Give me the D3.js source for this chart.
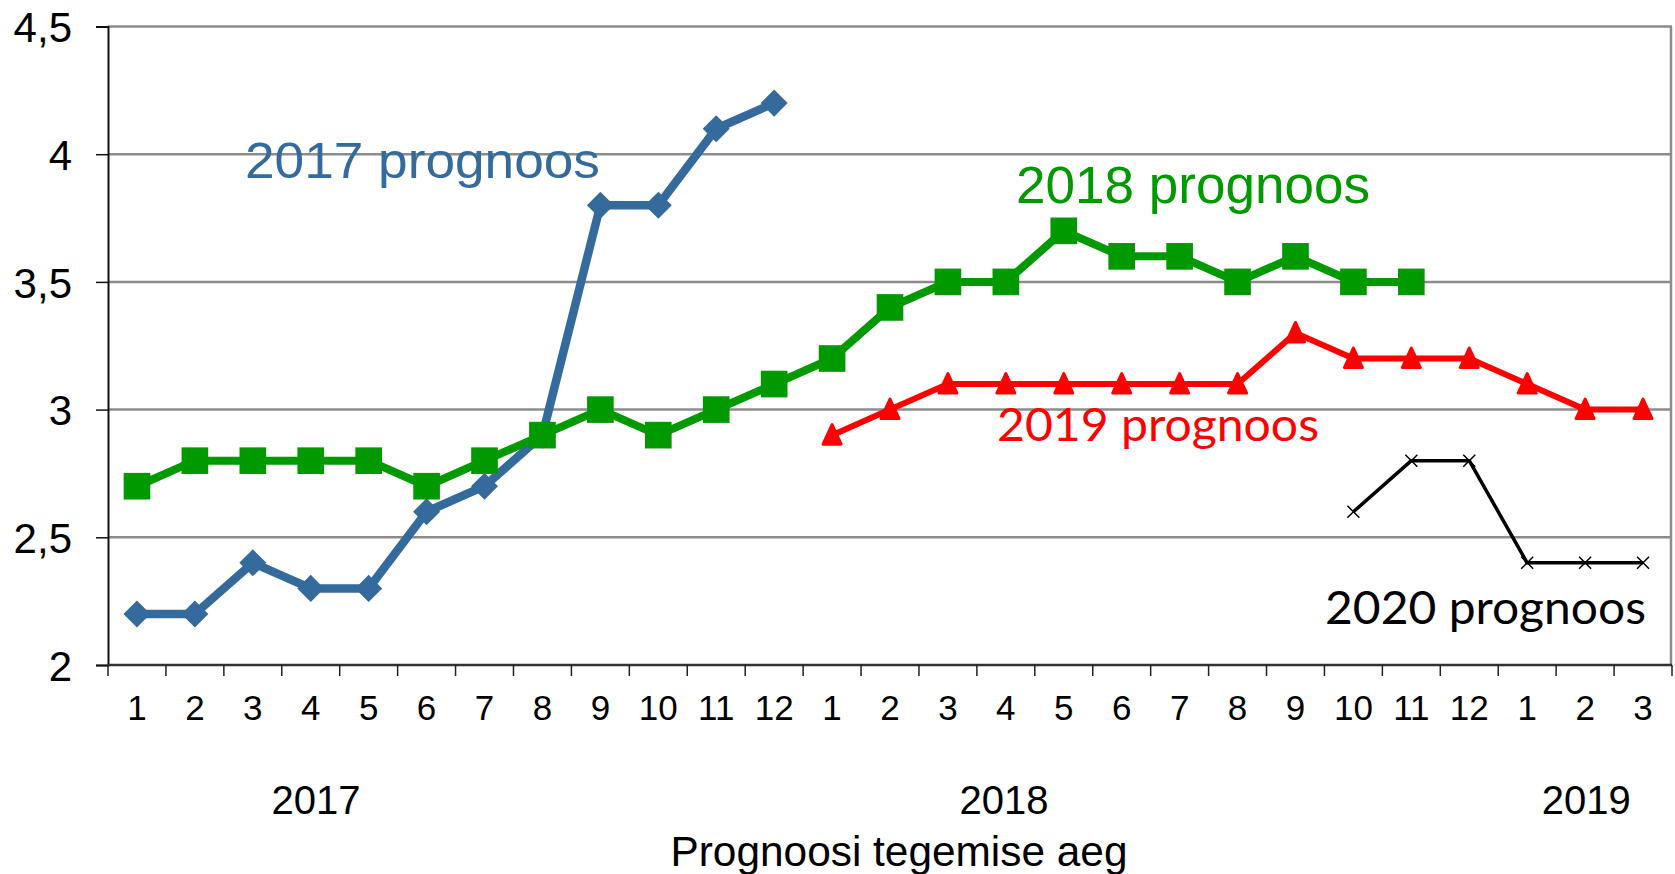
<!DOCTYPE html>
<meta charset="utf-8">
<style>
  body { margin: 0; background: #fff; }
  svg { display: block; font-family: "Liberation Sans", Arial, sans-serif; }
  .grid { stroke: #8c8c8c; stroke-width: 2.5; }
  .tick { stroke: #222; stroke-width: 1.5; }
</style>
<body>
<div id="chart"></div>
<script src="https://d3js.org/d3.v7.min.js"></script>
<script>
  // month labels along the x axis (2017-01 .. 2019-03)
  var months = ["1","2","3","4","5","6","7","8","9","10","11","12",
                "1","2","3","4","5","6","7","8","9","10","11","12",
                "1","2","3"];
  var yearLabels = ["2017", "2018", "2019"];
  var yTicks = [2, 2.5, 3, 3.5, 4, 4.5];

  // forecasts, each starts at some month index
  var f2017 = [2.2, 2.2, 2.4, 2.3, 2.3, 2.6, 2.7, 2.9, 3.8, 3.8, 4.1, 4.2];
  var f2018 = [2.7, 2.8, 2.8, 2.8, 2.8, 2.7, 2.8, 2.9, 3.0, 2.9, 3.0, 3.1,
               3.2, 3.4, 3.5, 3.5, 3.7, 3.6, 3.6, 3.5, 3.6, 3.5, 3.5];
  var f2019 = [2.9, 3.0, 3.1, 3.1, 3.1, 3.1, 3.1, 3.1, 3.3, 3.2, 3.2, 3.2, 3.1, 3.0, 3.0];
  var f2020 = [2.6, 2.8, 2.8, 2.4, 2.4, 2.4];
  var starts = { f2017: 0, f2018: 0, f2019: 12, f2020: 21 };
  var seriesNames = ["2017 prognoos", "2018 prognoos", "2019 prognoos", "2020 prognoos"];

  var width = 1675, height = 874;
  var mLeft = 108, mRight = 1672, mTop = 26.5, mBottom = 665;

  var svg = d3.select("#chart").append("svg")
          .attr("width", width)
          .attr("height", height);

  var x = d3.scaleBand().domain(d3.range(months.length)).range([mLeft, mRight]).padding(0);
  var bw = x.bandwidth();
  var cx = function (i) { return x(i) + bw / 2; };
  // continuous position in category units, for labels
  var xu = d3.scaleLinear().domain([0, months.length]).range([mLeft, mRight]);
  var y = d3.scaleLinear().domain([2, 4.5]).range([mBottom, mTop]);

  // gridlines
  svg.selectAll("line.grid").data(yTicks.slice(1)).enter()
          .append("line")
          .attr("class", "grid")
          .attr("x1", mLeft).attr("x2", mRight)
          .attr("y1", function (d) { return y(d); })
          .attr("y2", function (d) { return y(d); });

  // right border
  svg.append("line").attr("class", "grid")
          .attr("x1", mRight - 1).attr("x2", mRight - 1)
          .attr("y1", mTop).attr("y2", mBottom);

  // y axis
  var yAxis = svg.append("g")
          .attr("transform", "translate(" + mLeft + ",0)")
          .call(d3.axisLeft(y).tickValues(yTicks).tickSize(12).tickPadding(24)
                  .tickFormat(function (d) { return String(d).replace(".", ","); }));
  yAxis.select(".domain").attr("stroke", "#111").attr("stroke-width", 2);
  yAxis.selectAll(".tick line").attr("stroke", "#111").attr("stroke-width", 1.5);
  yAxis.selectAll(".tick text")
          .style("font-family", "'Liberation Sans', Arial, sans-serif")
          .style("font-weight", "normal")
          .attr("font-size", 42).attr("fill", "#000").attr("stroke", "none")
          .attr("dy", "0.36em");

  // x axis: ticks on category boundaries, labels centred in bands
  svg.append("line")
          .attr("x1", mLeft - 1).attr("x2", mRight)
          .attr("y1", mBottom).attr("y2", mBottom)
          .attr("stroke", "#333").attr("stroke-width", 2.5);

  svg.selectAll("line.xtick").data(d3.range(months.length + 1)).enter()
          .append("line")
          .attr("class", "tick")
          .attr("x1", function (d) { return xu(d); })
          .attr("x2", function (d) { return xu(d); })
          .attr("y1", mBottom).attr("y2", mBottom + 11);

  svg.selectAll("text.month").data(months).enter()
          .append("text")
          .attr("class", "month")
          .attr("x", function (d, i) { return cx(i); })
          .attr("y", 720)
          .attr("text-anchor", "middle")
          .attr("font-size", 35)
          .text(function (d) { return d; });

  var yearAt = [3.59, 15.47, 25.52];
  svg.selectAll("text.year").data(yearLabels).enter()
          .append("text")
          .attr("class", "year")
          .attr("x", function (d, i) { return xu(yearAt[i]); })
          .attr("y", 814)
          .attr("text-anchor", "middle")
          .attr("font-size", 40)
          .text(function (d) { return d; });

  svg.append("text")
          .attr("x", 899).attr("y", 866)
          .attr("text-anchor", "middle")
          .attr("font-size", 43)
          .attr("textLength", 457).attr("lengthAdjust", "spacingAndGlyphs")
          .text("Prognoosi tegemise aeg");

  // series
  function pts(values, start) {
    return values.map(function (v, i) { return { i: start + i, v: v }; });
  }
  var line = d3.line().x(function (d) { return cx(d.i); }).y(function (d) { return y(d.v); });

  var diamond = d3.symbol().type(d3.symbolSquare).size(365);
  var square = d3.symbol().type(d3.symbolSquare).size(710);
  var triangle = function () { return "M0,-10.5L9,9L-9,9Z"; };
  var cross = function () { return "M-6,-6L6,6M-6,6L6,-6"; };

  var series = [
    { data: pts(f2017, starts.f2017), color: "#356a9c", lw: 8.5, shape: diamond, rot: 45, stroke: 0 },
    { data: pts(f2018, starts.f2018), color: "#009900", lw: 8, shape: square, rot: 0, stroke: 0 },
    { data: pts(f2019, starts.f2019), color: "#ff0000", lw: 6, shape: triangle, rot: 0, stroke: 3 },
    { data: pts(f2020, starts.f2020), color: "#000000", lw: 3.5, shape: cross, rot: 0, stroke: 1.5, open: true }
  ];

  series.forEach(function (s) {
    svg.append("path")
            .datum(s.data)
            .attr("fill", "none")
            .attr("stroke", s.color)
            .attr("stroke-width", s.lw)
            .attr("stroke-linejoin", "round")
            .attr("d", line);
    svg.selectAll(null).data(s.data).enter()
            .append("path")
            .attr("transform", function (d) {
              return "translate(" + cx(d.i) + "," + y(d.v) + ") rotate(" + s.rot + ")";
            })
            .attr("d", s.shape)
            .attr("fill", s.open ? "none" : s.color)
            .attr("stroke", s.color)
            .attr("stroke-width", s.stroke)
            .attr("stroke-linejoin", "round");
  });

  // series labels, placed in data units
  var labels = [
    { text: seriesNames[0], u: 2.365, v: 3.905, color: "#356a9c", font: "Liberation Sans, Arial, sans-serif", size: 50, len: 355 },
    { text: seriesNames[1], u: 15.675, v: 3.807, color: "#009900", font: "Liberation Sans, Arial, sans-serif", size: 51, len: 354 },
    { text: seriesNames[2], u: 15.347, v: 2.876, color: "#ff0000", font: "Lato, Carlito, sans-serif", size: 47, len: 322 },
    { text: seriesNames[3], u: 21.01, v: 2.160, color: "#000000", font: "Lato, Carlito, sans-serif", size: 47, len: 321 }
  ];
  svg.selectAll("text.slabel").data(labels).enter()
          .append("text")
          .attr("class", "slabel")
          .attr("x", function (d) { return xu(d.u); })
          .attr("y", function (d) { return y(d.v); })
          .attr("fill", function (d) { return d.color; })
          .attr("font-family", function (d) { return d.font; })
          .attr("font-size", function (d) { return d.size; })
          .attr("textLength", function (d) { return d.len; })
          .attr("lengthAdjust", "spacingAndGlyphs")
          .text(function (d) { return d.text; });
</script>
</body>
